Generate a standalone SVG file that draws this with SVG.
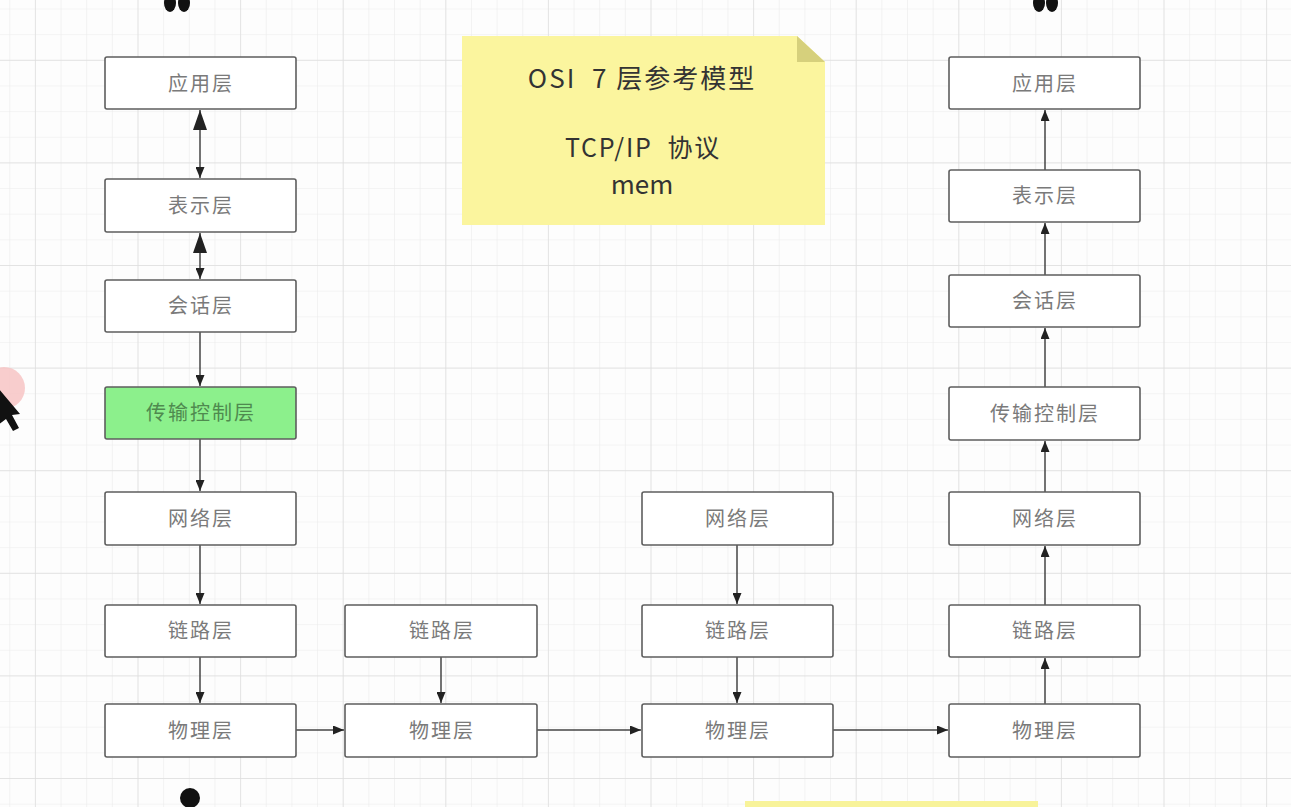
<svg xmlns="http://www.w3.org/2000/svg" width="1291" height="807" viewBox="0 0 1291 807">
<style>
.n rect{fill:#ffffff;stroke:#5e5e5e;stroke-width:1.6}
.n text{font-family:"Noto Sans CJK SC","Noto Sans",sans-serif;font-size:20px;fill:#7a7a7a;text-anchor:middle;letter-spacing:2px}
#n_l4 rect{fill:#8cf08c}
#n_l4 text{fill:#4f8a4f}
.c line{stroke:#444;stroke-width:1.5}
.note text{font-family:"Noto Sans CJK SC","Noto Sans",sans-serif;fill:#333;text-anchor:middle;white-space:pre}
</style>
<defs>
<pattern id="gMinor" x="9.25" y="8.5" width="25.65" height="25.65" patternUnits="userSpaceOnUse">
<path d="M0 0 V25.65 M0 0 H25.65" stroke="#ececec" stroke-width="1.2" fill="none"/>
</pattern>
<pattern id="gMajor" x="34.9" y="59.8" width="102.6" height="102.6" patternUnits="userSpaceOnUse">
<path d="M0 0 V102.6 M0 0 H102.6" stroke="#dedede" stroke-width="1.4" fill="none"/>
</pattern>
<marker id="ah" viewBox="0 0 11 9" refX="11" refY="4.5" markerWidth="11" markerHeight="9" orient="auto-start-reverse" markerUnits="userSpaceOnUse">
<path d="M0 0 L11 4.5 L0 9 Z" fill="#222"/>
</marker>
<marker id="ahb" viewBox="0 0 20 14" refX="20" refY="7" markerWidth="20" markerHeight="14" orient="auto-start-reverse" markerUnits="userSpaceOnUse">
<path d="M0 0 L20 7 L0 14 Z" fill="#222"/>
</marker>
</defs>
<rect width="1291" height="807" fill="#fdfdfd"/>
<rect width="1291" height="807" fill="url(#gMinor)"/>
<rect width="1291" height="807" fill="url(#gMajor)"/>

<g id="edge_shapes">
<ellipse cx="170" cy="3" rx="6" ry="9" fill="#111"/>
<ellipse cx="184" cy="3" rx="6" ry="9" fill="#111"/>
<ellipse cx="1039" cy="3" rx="6" ry="9" fill="#111"/>
<ellipse cx="1052" cy="3" rx="6" ry="9" fill="#111"/>
<circle cx="190" cy="798" r="10" fill="#111"/>
<rect x="745" y="801" width="293" height="10" fill="#f8f39a"/>
<circle cx="4" cy="388" r="21" fill="#f7c4c4" opacity="0.85"/>
<polygon points="-2,388 20,414 12,415 19,428 13,431 6,419 -2,425" fill="#111"/>
</g>

<g id="note" class="note">
<path d="M462 36 H797 L825 62 V225 H462 Z" fill="#fbf59e"/>
<path d="M797 36 V62 H825 Z" fill="#d6d07c"/>
<text x="642" y="88" font-size="26" letter-spacing="2" xml:space="preserve">OSI  7 层参考模型</text>
<text x="643" y="157" font-size="25" letter-spacing="1.8" xml:space="preserve">TCP/IP  协议</text>
<text x="642" y="194" font-size="26">mem</text>
</g>

<g id="connectors" class="c">
<line x1="200" y1="178" x2="200" y2="110" marker-end="url(#ahb)" marker-start="url(#ah)"/>
<line x1="200" y1="279" x2="200" y2="233" marker-end="url(#ahb)" marker-start="url(#ah)"/>
<line x1="200" y1="332" x2="200" y2="386" marker-end="url(#ah)"/>
<line x1="200" y1="439" x2="200" y2="491" marker-end="url(#ah)"/>
<line x1="200" y1="545" x2="200" y2="604" marker-end="url(#ah)"/>
<line x1="200" y1="657" x2="200" y2="703" marker-end="url(#ah)"/>
<line x1="296" y1="730" x2="344" y2="730" marker-end="url(#ah)"/>
<line x1="441" y1="657" x2="441" y2="703" marker-end="url(#ah)"/>
<line x1="537" y1="730" x2="641" y2="730" marker-end="url(#ah)"/>
<line x1="737" y1="545" x2="737" y2="604" marker-end="url(#ah)"/>
<line x1="737" y1="657" x2="737" y2="703" marker-end="url(#ah)"/>
<line x1="833" y1="730" x2="948" y2="730" marker-end="url(#ah)"/>
<line x1="1045" y1="704" x2="1045" y2="658" marker-end="url(#ah)"/>
<line x1="1045" y1="605" x2="1045" y2="546" marker-end="url(#ah)"/>
<line x1="1045" y1="492" x2="1045" y2="441" marker-end="url(#ah)"/>
<line x1="1045" y1="387" x2="1045" y2="328" marker-end="url(#ah)"/>
<line x1="1045" y1="275" x2="1045" y2="223" marker-end="url(#ah)"/>
<line x1="1045" y1="170" x2="1045" y2="110" marker-end="url(#ah)"/>
</g>

<g id="n_l7" class="n"><rect x="105" y="57" width="191" height="52" rx="2"/><text x="201" y="91">应用层</text></g>
<g id="n_l6" class="n"><rect x="105" y="179" width="191" height="53" rx="2"/><text x="201" y="213">表示层</text></g>
<g id="n_l5" class="n"><rect x="105" y="280" width="191" height="52" rx="2"/><text x="201" y="313">会话层</text></g>
<g id="n_l4" class="n"><rect x="105" y="387" width="191" height="52" rx="2"/><text x="201" y="420">传输控制层</text></g>
<g id="n_l3" class="n"><rect x="105" y="492" width="191" height="53" rx="2"/><text x="201" y="526">网络层</text></g>
<g id="n_l2" class="n"><rect x="105" y="605" width="191" height="52" rx="2"/><text x="201" y="638">链路层</text></g>
<g id="n_l1" class="n"><rect x="105" y="704" width="191" height="53" rx="2"/><text x="201" y="738">物理层</text></g>

<g id="n_b2" class="n"><rect x="345" y="605" width="192" height="52" rx="2"/><text x="442" y="638">链路层</text></g>
<g id="n_b1" class="n"><rect x="345" y="704" width="192" height="53" rx="2"/><text x="442" y="738">物理层</text></g>

<g id="n_c3" class="n"><rect x="642" y="492" width="191" height="53" rx="2"/><text x="738" y="526">网络层</text></g>
<g id="n_c2" class="n"><rect x="642" y="605" width="191" height="52" rx="2"/><text x="738" y="638">链路层</text></g>
<g id="n_c1" class="n"><rect x="642" y="704" width="191" height="53" rx="2"/><text x="738" y="738">物理层</text></g>

<g id="n_r7" class="n"><rect x="949" y="57" width="191" height="52" rx="2"/><text x="1045" y="91">应用层</text></g>
<g id="n_r6" class="n"><rect x="949" y="170" width="191" height="52" rx="2"/><text x="1045" y="203">表示层</text></g>
<g id="n_r5" class="n"><rect x="949" y="275" width="191" height="52" rx="2"/><text x="1045" y="308">会话层</text></g>
<g id="n_r4" class="n"><rect x="949" y="387" width="191" height="53" rx="2"/><text x="1045" y="421">传输控制层</text></g>
<g id="n_r3" class="n"><rect x="949" y="492" width="191" height="53" rx="2"/><text x="1045" y="526">网络层</text></g>
<g id="n_r2" class="n"><rect x="949" y="605" width="191" height="52" rx="2"/><text x="1045" y="638">链路层</text></g>
<g id="n_r1" class="n"><rect x="949" y="704" width="191" height="53" rx="2"/><text x="1045" y="738">物理层</text></g>
</svg>
